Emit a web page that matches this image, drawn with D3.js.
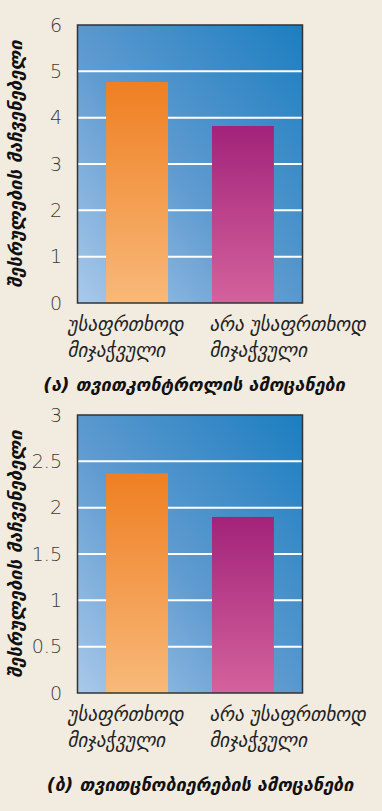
<!DOCTYPE html>
<html><head><meta charset="utf-8">
<script src="https://cdn.jsdelivr.net/npm/d3@7"></script>
<style>
html,body{margin:0;padding:0;background:#f1ebe0;}
svg{display:block;}
</style></head>
<body>
<svg id="chart" width="382" height="811"></svg>
<script>
// ---- data ----
const categories = ["უსაფრთხოდ მიჯაჭვული", "არა უსაფრთხოდ მიჯაჭვული"];
const categoryLines = [["უსაფრთხოდ", "მიჯაჭვული"], ["არა უსაფრთხოდ", "მიჯაჭვული"]];
const selfControlValues = [4.77, 3.82];
const selfAwarenessValues = [2.37, 1.90];
const selfControlTicks = [0, 1, 2, 3, 4, 5, 6];
const selfAwarenessTicks = [0, 0.5, 1, 1.5, 2, 2.5, 3];
const selfControlTickLabels = ["0", "1", "2", "3", "4", "5", "6"];
const selfAwarenessTickLabels = ["0", "0.5", "1", "1.5", "2", "2.5", "3"];
const yTitle = "შესრულების მაჩვენებელი";
const captions = ["(ა) თვითკონტროლის ამოცანები", "(ბ) თვითცნობიერების ამოცანები"];

// ---- drawing ----
const svg = d3.select("#chart");
const defs = svg.append("defs");

const bg = defs.append("linearGradient").attr("id","bgGrad")
  .attr("x1","0%").attr("y1","100%").attr("x2","100%").attr("y2","0%");
bg.append("stop").attr("offset","0%").attr("stop-color","#a9c9ea");
bg.append("stop").attr("offset","45%").attr("stop-color","#5f9bd0");
bg.append("stop").attr("offset","100%").attr("stop-color","#1c7ec0");

const barColors = [["#ef7f22","#f8b97a"],["#a2237a","#d4629c"]];
barColors.forEach((c,i)=>{
  const g = defs.append("linearGradient").attr("id","barGrad"+i)
    .attr("x1","0%").attr("y1","0%").attr("x2","0%").attr("y2","100%");
  g.append("stop").attr("offset","0%").attr("stop-color",c[0]);
  g.append("stop").attr("offset","100%").attr("stop-color",c[1]);
});

const labelShift = [-69.5, -33.5]; // left edge of category label relative to band centre
const geoFont = "'DejaVu Sans', sans-serif";

function panel(top, values, ticks, tickLabels) {
  const left = 77.5, right = 302.5, plotTop = top, plotBottom = top + 278;
  const x = d3.scaleBand().domain(categories).range([left, right]).paddingInner(0.415).paddingOuter(0.27);
  const y = d3.scaleLinear().domain([0, d3.max(ticks)]).range([plotBottom, plotTop]);
  const g = svg.append("g");

  g.append("rect").attr("x", left).attr("y", plotTop).attr("width", right-left).attr("height", plotBottom-plotTop)
    .attr("fill","url(#bgGrad)");

  g.selectAll("line.grid").data(ticks.slice(1, -1)).join("line").attr("class","grid")
    .attr("x1", left).attr("x2", right).attr("y1", d=>y(d)).attr("y2", d=>y(d))
    .attr("stroke","#fff").attr("stroke-width",2);

  g.selectAll("rect.bar").data(values).join("rect").attr("class","bar")
    .attr("x",(d,i)=>x(categories[i])).attr("width",x.bandwidth())
    .attr("y",d=>y(d)).attr("height",d=>y(0)-y(d))
    .attr("fill",(d,i)=>"url(#barGrad"+i+")");

  g.append("rect").attr("x", left).attr("y", plotTop).attr("width", right-left).attr("height", plotBottom-plotTop)
    .attr("fill","none").attr("stroke","#333").attr("stroke-width",1.5);

  const yAxis = d3.axisLeft(y).tickValues(ticks).tickFormat((d,i)=>tickLabels[i]).tickSize(0).tickPadding(15.5);
  const ax = g.append("g").attr("transform",`translate(${left},0)`).call(yAxis);
  ax.select(".domain").remove();
  ax.selectAll("text").attr("font-family","'DejaVu Sans', sans-serif").attr("font-weight",200)
    .attr("font-size",19).attr("fill","#3a3a3a");

  categoryLines.forEach((lines,i)=>{
    const cx = x(categories[i]) + x.bandwidth()/2 + labelShift[i];
    lines.forEach((t,j)=>{
      g.append("text").attr("x",cx).attr("y",plotBottom + 28 + j*26)
        .attr("font-family",geoFont).attr("font-style","italic").attr("font-size",19)
        .attr("fill","#222").text(t);
    });
  });

  g.append("text").attr("transform",`translate(22,${(plotTop+plotBottom)/2}) rotate(-90)`)
    .attr("text-anchor","middle").attr("font-family",geoFont).attr("font-style","italic")
    .attr("font-weight","bold").attr("font-size",18.5).attr("fill","#111").text(yTitle);
}

panel(25, selfControlValues, selfControlTicks, selfControlTickLabels);
svg.append("text").attr("x",194).attr("y",391).attr("text-anchor","middle")
  .attr("font-family",geoFont).attr("font-style","italic").attr("font-weight","bold")
  .attr("font-size",18).attr("fill","#111").text(captions[0]);

panel(415, selfAwarenessValues, selfAwarenessTicks, selfAwarenessTickLabels);
svg.append("text").attr("x",200).attr("y",791).attr("text-anchor","middle")
  .attr("font-family",geoFont).attr("font-style","italic").attr("font-weight","bold")
  .attr("font-size",18).attr("fill","#111").text(captions[1]);
</script>
</body></html>
